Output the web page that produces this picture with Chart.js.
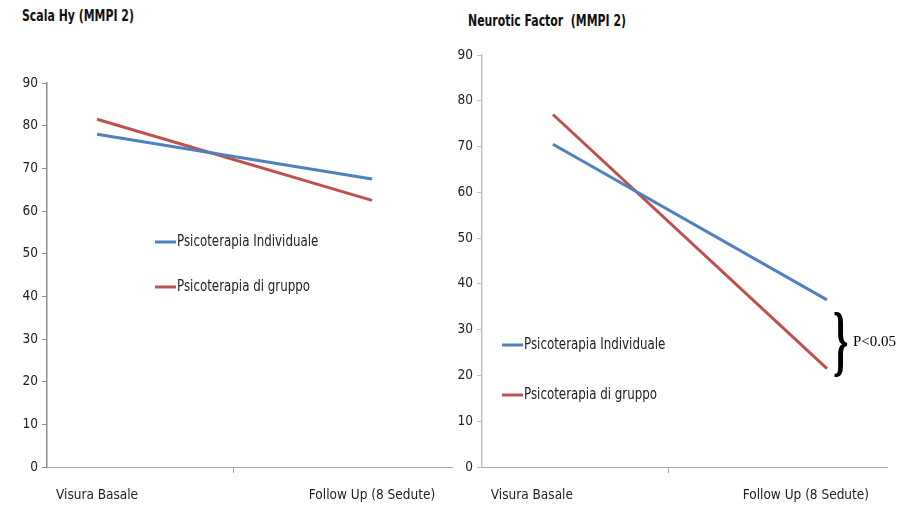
<!DOCTYPE html>
<html>
<head>
<meta charset="utf-8">
<script src="https://cdn.jsdelivr.net/npm/chart.js@4/dist/chart.umd.min.js"></script>
<style>
  body { margin: 0; background: #fff; width: 907px; height: 505px; overflow: hidden; position: relative;
         font-family: 'Liberation Sans Narrow', 'DejaVu Sans Condensed', 'Roboto', sans-serif; }
  .box { position: absolute; top: 0; height: 505px; }
  .title { position: absolute; font-weight: bold; font-size: 15px; color: #111; white-space: pre;
           transform: scaleX(0.81); transform-origin: left top; }
  .brace { position: absolute; font-family: 'Liberation Serif', 'DejaVu Serif', serif; font-size: 78px;
           font-weight: bold; line-height: 1; transform: scaleX(0.5); transform-origin: left top; color: #000; }
  .pval { position: absolute; font-family: 'Liberation Serif', 'DejaVu Serif', serif; font-size: 15px; color: #000; }
</style>
</head>
<body>
<div class="title" style="left:22px; top:7px;">Scala Hy (MMPI 2)</div>
<div class="title" style="left:468px; top:12px;">Neurotic Factor  (MMPI 2)</div>
<div class="box" style="left:0; width:460px;"><canvas id="chartHy"></canvas></div>
<div class="box" style="left:440px; width:467px;"><canvas id="chartNeuro"></canvas></div>
<div class="brace" style="left:833px; top:301px;">}</div>
<div class="pval" style="left:853px; top:333px;">P&lt;0.05</div>

<script>
const categories = ['Visura Basale', 'Follow Up (8 Sedute)'];
const seriesNames = ['Psicoterapia Individuale', 'Psicoterapia di gruppo'];
const yTicks = [0, 10, 20, 30, 40, 50, 60, 70, 80, 90];

// Scala Hy (MMPI 2)
const hyIndividuale = [78, 67.5];
const hyGruppo = [81.5, 62.5];

// Neurotic Factor (MMPI 2)
const neuroIndividuale = [70.5, 36.5];
const neuroGruppo = [77, 21.5];

const BLUE = '#4F81BD';
const RED = '#C0504D';
const FONT = "'Liberation Sans Narrow', 'DejaVu Sans Condensed', 'Roboto', sans-serif";

// legend drawn inside the plot area, like the original
const innerLegend = {
  id: 'innerLegend',
  afterDatasetsDraw(chart, args, opts) {
    const ctx = chart.ctx;
    ctx.save();
    ctx.font = '15px ' + FONT;
    ctx.textBaseline = 'middle';
    chart.data.datasets.forEach((ds, i) => {
      const y = opts.y + i * opts.gap;
      ctx.strokeStyle = ds.borderColor;
      ctx.lineWidth = 3;
      ctx.beginPath();
      ctx.moveTo(opts.x, y);
      ctx.lineTo(opts.x + 21, y);
      ctx.stroke();
      ctx.save();
      ctx.translate(opts.x + 22, y);
      ctx.scale(0.88, 1);
      ctx.fillStyle = '#222';
      ctx.fillText(ds.label, 0, 0);
      ctx.restore();
    });
    ctx.restore();
  }
};

function makeChart(id, individuale, gruppo, cfg) {
  const canvas = document.getElementById(id);
  const toPoints = (vals) => vals.map((v, i) => ({ x: i, y: v }));
  return new Chart(canvas.getContext('2d'), {
    type: 'line',
    data: {
      datasets: [
        { label: seriesNames[0], data: toPoints(individuale), borderColor: BLUE, backgroundColor: BLUE,
          borderWidth: 3, pointRadius: 0, tension: 0 },
        { label: seriesNames[1], data: toPoints(gruppo), borderColor: RED, backgroundColor: RED,
          borderWidth: 3, pointRadius: 0, tension: 0 },
      ],
    },
    plugins: [innerLegend],
    options: {
      responsive: false,
      animation: false,
      layout: { padding: { top: cfg.top, right: cfg.right, left: 0, bottom: 0 } },
      plugins: {
        legend: { display: false },
        tooltip: { enabled: false },
        innerLegend: cfg.legend,
      },
      scales: {
        x: {
          type: 'linear',
          min: cfg.xMin,
          max: cfg.xMax,
          afterBuildTicks: (s) => { s.ticks = cfg.xTicks.map((v) => ({ value: v })); },
          afterFit: (s) => { s.height = 505 - cfg.bottom; },
          border: { color: '#a6a6a6', width: 1 },
          grid: {
            drawOnChartArea: false,
            tickLength: 6,
            color: (c) => (c.index === 1 ? '#a6a6a6' : 'rgba(0,0,0,0)'),
          },
          ticks: {
            autoSkip: false,
            maxRotation: 0,
            padding: 14,
            color: '#222',
            font: { family: FONT, size: 13.5 },
            callback: (v, i) => (i === 0 ? categories[0] : i === 2 ? categories[1] : ''),
          },
        },
        y: {
          min: 0,
          max: 90,
          afterBuildTicks: (s) => { s.ticks = yTicks.map((v) => ({ value: v })); },
          afterFit: (s) => { s.width = cfg.axisX; },
          border: { color: cfg.axisColor, width: 1.5 },
          grid: { drawOnChartArea: false, tickLength: 5, color: cfg.axisColor },
          ticks: { padding: 4, color: '#222', font: { family: FONT, size: 13.5 } },
        },
      },
    },
  });
}

function sizeCanvas(id, w, h) {
  const c = document.getElementById(id);
  c.width = w; c.height = h;
  c.style.width = w + 'px'; c.style.height = h + 'px';
}

sizeCanvas('chartHy', 460, 505);
sizeCanvas('chartNeuro', 467, 505);

makeChart('chartHy', hyIndividuale, hyGruppo, {
  top: 83, bottom: 467, right: 8, axisX: 47, axisColor: '#8c8c8c',
  xMin: -0.182, xMax: 1.291, xTicks: [0, 0.495, 1],
  legend: { x: 155, y: 242, gap: 45 },
});

makeChart('chartNeuro', neuroIndividuale, neuroGruppo, {
  top: 55, bottom: 467, right: 20, axisX: 42, axisColor: '#c0c0c0',
  xMin: -0.259, xMax: 1.219, xTicks: [-0.077, 0.42, 0.923],
  legend: { x: 62, y: 345, gap: 50 },
});
</script>
</body>
</html>
